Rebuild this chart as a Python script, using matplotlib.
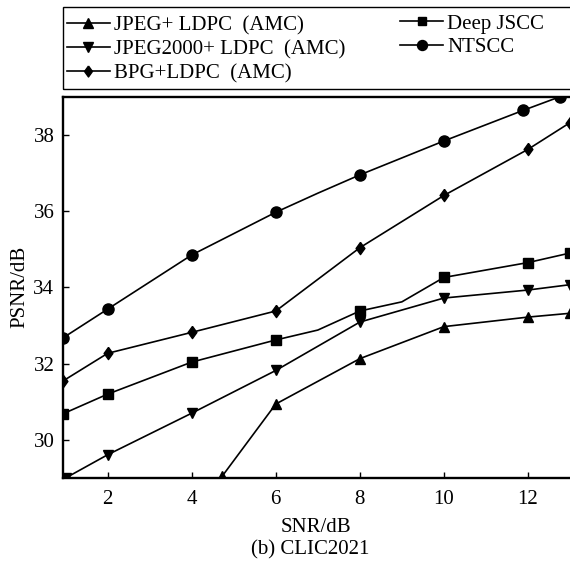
import numpy as np
import matplotlib
matplotlib.use('Agg')
import matplotlib.pyplot as plt
from matplotlib.patches import Rectangle

plt.rcParams['font.family'] = ['Liberation Serif', 'Noto Sans CJK SC', 'DejaVu Sans']

# PSNR vs SNR on CLIC2021
labels = ['JPEG+ LDPC\u2002(AMC)', 'JPEG2000+ LDPC\u2002(AMC)', 'BPG+LDPC\u2002(AMC)',
          'Deep JSCC', 'NTSCC']

snr_jpeg = [4.72, 6, 8, 10, 12, 13]
psnr_jpeg = [29.04, 30.94, 32.13, 32.97, 33.22, 33.32]

snr_j2k = [1.0, 2, 4, 6, 8, 10, 12, 13]
psnr_j2k = [29.0, 29.61, 30.70, 31.82, 33.09, 33.72, 33.93, 34.07]

snr_bpg = [0.93, 2, 4, 6, 8, 10, 12, 13]
psnr_bpg = [31.54, 32.27, 32.82, 33.38, 35.04, 36.41, 37.62, 38.32]

snr_djscc = [0.93, 2, 4, 6, 7, 8, 9, 10, 12, 13]
psnr_djscc = [30.68, 31.20, 32.04, 32.62, 32.88, 33.38, 33.62, 34.26, 34.65, 34.90]
mark_djscc = [0, 1, 2, 3, 5, 7, 8, 9]

snr_ntscc = [0.93, 2, 4, 6, 7, 8, 10, 11.88, 12.76]
psnr_ntscc = [32.67, 33.43, 34.85, 35.97, 36.47, 36.95, 37.84, 38.64, 39.0]
mark_ntscc = [0, 1, 2, 3, 5, 6, 7, 8]

xticks = [2, 4, 6, 8, 10, 12]
yticks = [30, 32, 34, 36, 38]

# diamond a bit wider than matplotlib's thin one
diamond = [(0, 1), (0.72, 0), (0, -1), (-0.72, 0), (0, 1)]

fig = plt.figure(figsize=(5.7, 5.66), dpi=100)
ax = fig.add_axes([0.110, 0.1555, 0.890, 0.6736])

style = dict(color='black', lw=1.2, clip_on=True)
h = []
h += ax.plot(snr_jpeg, psnr_jpeg, marker='^', markersize=7.8, **style)
h += ax.plot(snr_j2k, psnr_j2k, marker='v', markersize=7.8, **style)
h += ax.plot(snr_bpg, psnr_bpg, marker=diamond, markersize=8.8, **style)
h += ax.plot(snr_djscc, psnr_djscc, marker='s', markersize=6.8,
             markevery=mark_djscc, **style)
h += ax.plot(snr_ntscc, psnr_ntscc, marker='o', markersize=8,
             markevery=mark_ntscc, **style)

ax.set_xlim(0.93, 13.0)
ax.set_ylim(29.0, 39.0)
ax.set_xticks(xticks)
ax.set_yticks(yticks)
ax.tick_params(direction='in', length=4, width=1, labelsize=15)
ax.tick_params(axis='x', pad=9)
ax.tick_params(axis='y', pad=6)
for s in ['left', 'bottom', 'top']:
    ax.spines[s].set_linewidth(1.7)
ax.spines['right'].set_visible(False)

ax.set_xlabel('SNR/dB', fontsize=15, labelpad=6)
ax.set_ylabel('PSNR/dB', fontsize=15, labelpad=3)
fig.text(310 / 570, 1 - 550 / 566, '(b) CLIC2021', fontsize=15,
         ha='center', va='center')

# legend box runs off the right edge of the figure
fig.patches.append(Rectangle((62.5 / 570, 1 - 89.3 / 566), 0.95, 82 / 566,
                             transform=fig.transFigure, fill=False,
                             edgecolor='black', lw=1.0))
leg_kw = dict(frameon=False, fontsize=15, handlelength=2.07, handletextpad=0.2,
              labelspacing=0.2, borderaxespad=0, borderpad=0, markerscale=0.9)
leg1 = fig.legend(h[:3], labels[:3], loc='upper left',
                  bbox_to_anchor=(66.7 / 570, 1 - 16 / 566), **leg_kw)
fig.legend(h[3:], labels[3:], loc='upper left',
           bbox_to_anchor=(400 / 570, 1 - 14 / 566), **leg_kw)

fig.savefig('out.png', dpi=100)
